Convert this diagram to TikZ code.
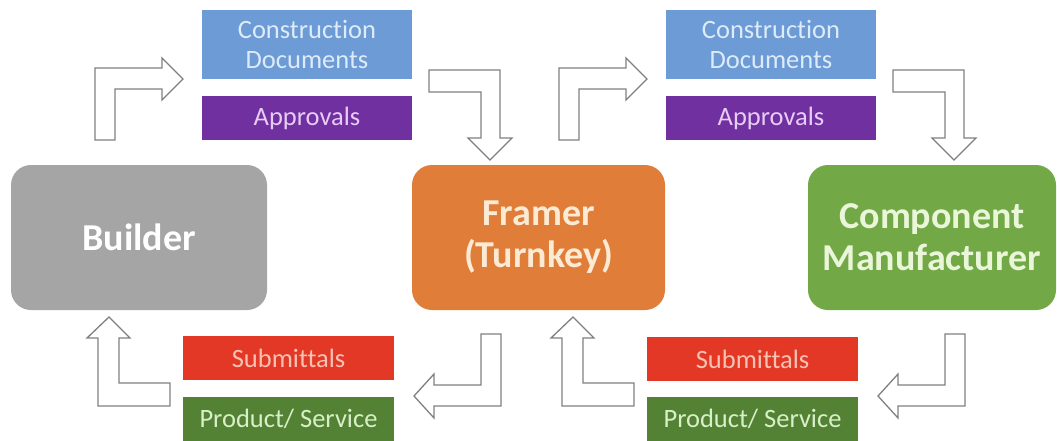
\documentclass[tikz,border=0pt]{standalone}
\usepackage{fontspec}
\setmainfont[Ligatures={NoCommon}]{Carlito}
\definecolor{cdblue}{HTML}{6C9BD6}
\definecolor{cdtext}{HTML}{DDEBFA}
\definecolor{appurple}{HTML}{7030A0}
\definecolor{aptext}{HTML}{E8CCF6}
\definecolor{bldgray}{HTML}{A5A5A5}
\definecolor{frorange}{HTML}{E07D39}
\definecolor{frtext}{HTML}{FCEBD4}
\definecolor{cmgreen}{HTML}{72A845}
\definecolor{cmtext}{HTML}{EAF6DA}
\definecolor{sbred}{HTML}{E23825}
\definecolor{sbtext}{HTML}{F8C2B2}
\definecolor{psgreen}{HTML}{548235}
\definecolor{pstext}{HTML}{D8F0C8}
\definecolor{arrowline}{HTML}{808080}
\tikzset{
  smallbox/.style={rectangle, inner sep=0pt, minimum width=210pt, minimum height=44pt,
    align=center, font=\fontsize{26.5}{30}\selectfont},
  bigbox/.style={rectangle, rounded corners=20pt, inner sep=0pt, minimum height=145pt,
    align=center, font=\fontsize{38}{42}\selectfont\bfseries},
  blockarrow/.style={draw=arrowline, fill=white, line width=1.3pt, line join=miter}
}
\begin{document}
\begin{tikzpicture}[x=1pt,y=-1pt]
\useasboundingbox (0,0) rectangle (1057,440);
% top boxes
\node[smallbox, fill=cdblue, text=cdtext, minimum height=69pt] (cd1) at (307,44.5) {Construction\\Documents};
\node[smallbox, fill=appurple, text=aptext] (ap1) at (307,118) {Approvals};
\node[smallbox, fill=cdblue, text=cdtext, minimum height=69pt] (cd2) at (771,44.5) {Construction\\Documents};
\node[smallbox, fill=appurple, text=aptext] (ap2) at (771,118) {Approvals};
% main boxes
\node[bigbox, fill=bldgray, text=white, minimum width=256pt] (builder) at (139,237.5) {Builder};
\node[bigbox, fill=frorange, text=frtext, minimum width=253pt] (framer) at (538.5,237.5) {Framer\\(Turnkey)};
\node[bigbox, fill=cmgreen, text=cmtext, minimum width=248pt] (manuf) at (932,237.5) {Component\\Manufacturer};
% bottom boxes
\node[smallbox, fill=sbred, text=sbtext, minimum width=211pt] (sb1) at (288.5,358) {Submittals};
\node[smallbox, fill=psgreen, text=pstext, minimum width=211pt] (ps1) at (288.5,419) {Product/ Service};
\node[smallbox, fill=sbred, text=sbtext, minimum width=211pt] (sb2) at (752.5,359) {Submittals};
\node[smallbox, fill=psgreen, text=pstext, minimum width=211pt] (ps2) at (752.5,419) {Product/ Service};
% block arrows
\foreach \dx in {0,464}{
  \begin{scope}[xshift=\dx]
    % up then right
    \draw[blockarrow] (95,140) -- (95,68) -- (162,68) -- (162,58) -- (183,79) -- (162,100) -- (162,89) -- (115,89) -- (115,140) -- cycle;
    % right then down
    \draw[blockarrow] (429,70) -- (500,70) -- (500,138) -- (512,138) -- (490,160) -- (468,138) -- (481,138) -- (481,92) -- (429,92) -- cycle;
    % left then up
    \draw[blockarrow] (170,383) -- (170,406) -- (98,406) -- (98,338) -- (87,338) -- (109,317) -- (130,338) -- (119,338) -- (119,383) -- cycle;
    % down then left
    \draw[blockarrow] (481,334) -- (501,334) -- (501,406) -- (434,406) -- (434,418) -- (414,396) -- (434,374) -- (434,385) -- (481,385) -- cycle;
  \end{scope}
}
\end{tikzpicture}
\end{document}
